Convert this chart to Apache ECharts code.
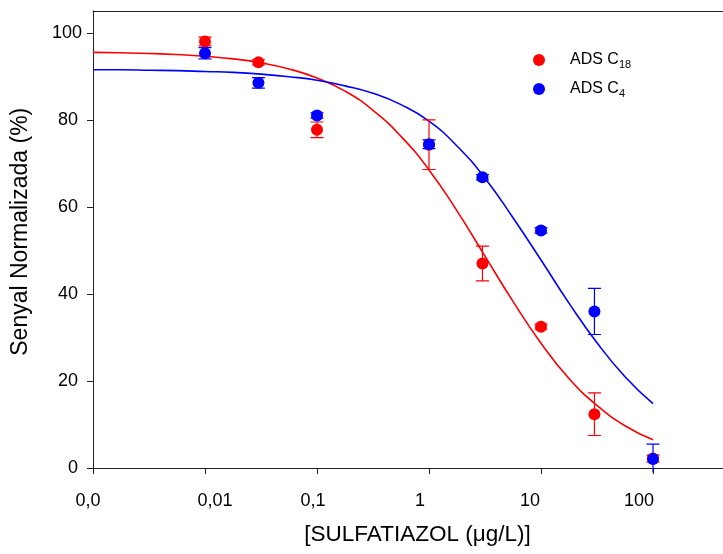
<!DOCTYPE html>
<html><head><meta charset="utf-8">
<script src="https://cdn.jsdelivr.net/npm/echarts@6/dist/echarts.min.js"></script>
<style>html,body{margin:0;padding:0;background:#fff}#c{width:723px;height:554px}</style>
</head><body><div id="c"></div>
<script>
// ---- data ----
const concentrations = [0.01, 0.03, 0.1, 1, 3, 10, 30, 100];
const c18Mean = [98.0, 93.2, 77.7, 74.3, 47.0, 32.5, 12.4, 2.2];
const c18Err  = [1.0, 0.6, 1.8, 5.7, 4.0, 0.6, 4.9, 0.8];
const c4Mean  = [95.3, 88.5, 81.0, 74.4, 66.8, 54.6, 36.0, 2.1];
const c4Err   = [1.3, 1.2, 0.6, 1.0, 0.6, 0.6, 5.3, 3.4];
const fitX   = [0.001, 0.001778, 0.003162, 0.005623, 0.01, 0.01778, 0.03162, 0.05623, 0.1, 0.1778, 0.3162, 0.5623, 1, 1.778, 3.162, 5.623, 10, 17.78, 31.62, 56.23, 100];
const c18Fit = [95.5, 95.4, 95.25, 95.0, 94.6, 94.0, 93.1, 91.7, 89.6, 86.6, 82.2, 76.2, 68.5, 59.1, 48.7, 38.3, 28.7, 20.6, 14.4, 9.75, 6.5];
const c4Fit  = [91.5, 91.5, 91.4, 91.3, 91.1, 90.9, 90.5, 89.9, 89.1, 87.8, 86.1, 83.5, 79.7, 74.0, 66.6, 57.5, 47.8, 37.9, 28.8, 21.0, 14.8];
const xTickValues = [0.001, 0.01, 0.1, 1, 10, 100];
const xTickLabels = ['0,0', '0,01', '0,1', '1', '10', '100'];
const yTickValues = [0, 20, 40, 60, 80, 100];
const seriesNames = ['ADS C18', 'ADS C4'];

// ---- styling ----
const RED = '#ff0000', BLUE = '#0000ff', AXIS = '#222';
const FONT = 'Liberation Sans, Arial, Helvetica, sans-serif';
const xLabelShift = [-5, 10, -4, -9, -11, -14]; // per-label horizontal nudges (px)

function nearestIdx(arr, v) {
  let best = 0, bd = Infinity;
  arr.forEach((a, i) => { const d = Math.abs(Math.log10(a) - Math.log10(v)); if (d < bd) { bd = d; best = i; } });
  return best;
}
const xRich = {};
xLabelShift.forEach((s, i) => {
  xRich['s' + i] = { fontSize: 18, fontFamily: FONT, color: '#000', lineHeight: 18,
    padding: s >= 0 ? [0, 0, 0, 2 * s] : [0, -2 * s, 0, 0] };
});

function errorSeries(color, means, errs, z) {
  return {
    type: 'custom', z: z, silent: true, clip: true,
    data: concentrations.map((x, i) => [x, means[i] - errs[i], means[i] + errs[i]]),
    encode: { x: 0, y: [1, 2] },
    renderItem(params, api) {
      const x = api.value(0);
      const lo = api.coord([x, api.value(1)]);
      const hi = api.coord([x, api.value(2)]);
      const hw = 6.5;
      const st = { stroke: color, lineWidth: 1.2 };
      return { type: 'group', children: [
        { type: 'line', shape: { x1: lo[0], y1: lo[1], x2: hi[0], y2: hi[1] }, style: st },
        { type: 'line', shape: { x1: lo[0] - hw, y1: lo[1], x2: lo[0] + hw, y2: lo[1] }, style: st },
        { type: 'line', shape: { x1: hi[0] - hw, y1: hi[1], x2: hi[0] + hw, y2: hi[1] }, style: st }
      ]};
    }
  };
}

const X_MAX = 421.7; // right edge of the (cropped) plot area
const chart = echarts.init(document.getElementById('c'), null, { renderer: 'canvas' });
chart.setOption({
  animation: false,
  backgroundColor: '#fff',
  grid: { left: 93, top: 11, right: 0, bottom: 81.5, containLabel: false },
  legend: {
    orient: 'vertical', left: 533, top: 50, padding: 0, itemWidth: 12, itemHeight: 12, itemGap: 9,
    icon: 'circle', selectedMode: false, data: seriesNames,
    formatter: n => n === 'ADS C18' ? '{n|ADS C}{s|18}' : '{n|ADS C}{s|4}',
    textStyle: { rich: {
      n: { fontSize: 16, fontFamily: FONT, color: '#000', lineHeight: 20, padding: [0, 0, 0, 20] },
      s: { fontSize: 11, fontFamily: FONT, color: '#000', lineHeight: 20, verticalAlign: 'bottom', padding: [9, 0, 0, 0] }
    }}
  },
  xAxis: [{
    type: 'log', logBase: 10, min: 0.001, max: X_MAX, position: 'bottom',
    name: '[SULFATIAZOL (\u03bcg/L)]', nameLocation: 'middle', nameGap: 51,
    nameTextStyle: { fontSize: 22.5, fontFamily: FONT, color: '#000', padding: [0, 0, 0, 2 * (417.5 - (93 + 630 / 2))] },
    axisLine: { show: true, lineStyle: { color: AXIS, width: 1 } },
    axisTick: { show: true, inside: false, length: 6, customValues: xTickValues, lineStyle: { color: AXIS } },
    axisLabel: { show: true, margin: 20, customValues: xTickValues, showMaxLabel: true, showMinLabel: true,
      formatter: v => { const i = nearestIdx(xTickValues, v); return '{s' + i + '|' + xTickLabels[i] + '}'; },
      rich: xRich },
    splitLine: { show: false }, minorTick: { show: false }
  }, {
    type: 'log', logBase: 10, min: 0.001, max: X_MAX, position: 'top',
    axisLine: { show: true, lineStyle: { color: AXIS, width: 1 } },
    axisTick: { show: false }, axisLabel: { show: false }, splitLine: { show: false }
  }],
  yAxis: {
    type: 'value', min: -1, max: 105,
    name: 'Senyal Normalizada (%)', nameLocation: 'middle', nameGap: 61,
    nameTextStyle: { fontSize: 23, fontFamily: FONT, color: '#000', padding: [0, 0, 0, 20] },
    axisLine: { show: true, lineStyle: { color: AXIS, width: 1 } },
    axisTick: { show: true, inside: false, length: 6, customValues: yTickValues, lineStyle: { color: AXIS } },
    axisLabel: { show: true, margin: 11, customValues: yTickValues,
      formatter: v => v === 100 ? '{w|100}' : '{n|' + v + '}',
      rich: {
        w: { fontSize: 18, fontFamily: FONT, color: '#000' },
        n: { fontSize: 18, fontFamily: FONT, color: '#000', padding: [0, 4, 0, 0] }
      } },
    splitLine: { show: false }
  },
  series: [
    { type: 'line', name: 'fitC18', data: fitX.map((x, i) => [x, c18Fit[i]]), showSymbol: false, smooth: true,
      lineStyle: { color: RED, width: 1.6 }, z: 2, silent: true },
    { type: 'line', name: 'fitC4', data: fitX.map((x, i) => [x, c4Fit[i]]), showSymbol: false, smooth: true,
      lineStyle: { color: BLUE, width: 1.6 }, z: 2, silent: true },
    errorSeries(RED, c18Mean, c18Err, 3),
    { type: 'scatter', name: 'ADS C18', data: concentrations.map((x, i) => [x, c18Mean[i]]),
      symbol: 'circle', symbolSize: 12, itemStyle: { color: RED, opacity: 1 }, z: 4 },
    errorSeries(BLUE, c4Mean, c4Err, 5),
    { type: 'scatter', name: 'ADS C4', data: concentrations.map((x, i) => [x, c4Mean[i]]),
      symbol: 'circle', symbolSize: 12, itemStyle: { color: BLUE, opacity: 1 }, z: 6 }
  ]
});
</script></body></html>
